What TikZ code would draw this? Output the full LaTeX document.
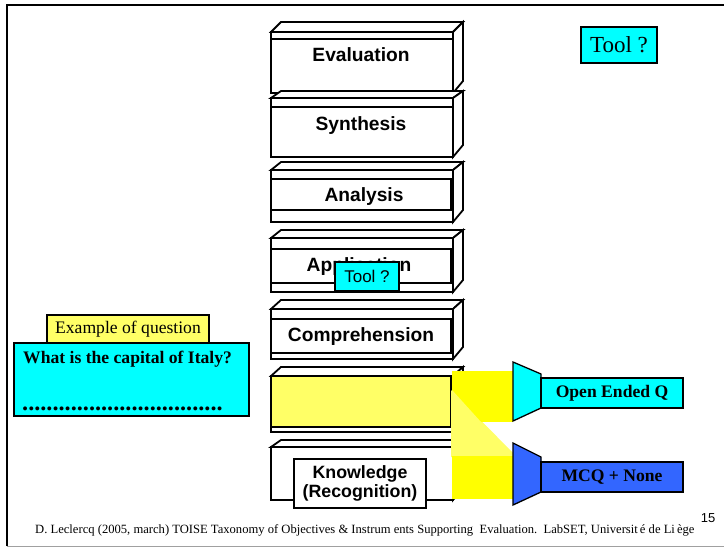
\documentclass[tikz,border=0pt]{standalone}
\usepackage{fontspec}
\setmainfont{Liberation Serif}
\newfontfamily\arialfont{Liberation Sans}
\definecolor{paleyellow}{HTML}{FFFF66}
\definecolor{brightyellow}{HTML}{FFFF00}
\definecolor{toolcyan}{HTML}{00FFFF}
\definecolor{mcqblue}{HTML}{3366FF}
\definecolor{framegray}{HTML}{A0A0A0}
\tikzset{
  edge/.style={draw=black, line width=1.8pt, line join=miter},
  thin edge/.style={draw=black, line width=1.3pt},
  tierlabel/.style={font=\arialfont\bfseries\fontsize{19.2}{21}\selectfont, inner sep=0pt},
  serifbold/.style={font=\bfseries\fontsize{17.6}{20}\selectfont, inner sep=0pt},
}
% One tier of the taxonomy: #1 back edge, #2 front top, #3 front bottom
\newcommand\tierblock[3]{%
  \filldraw[edge, fill=white] (271,#2) rectangle (453,#3);
  \filldraw[edge, fill=white] (271,#2) -- (281,#1) -- (463,#1) -- (453,#2) -- cycle;
  \filldraw[edge, fill=white] (453,#2) -- (463,#1) -- (463,#3-12) -- (453,#3) -- cycle;
}
\begin{document}
\begin{tikzpicture}[x=1pt,y=-1pt]
\useasboundingbox (0,0) rectangle (724,547);
\fill[white] (0,0) rectangle (724,547);

% slide frame
\draw[black, line width=2pt] (7,546) -- (7,5) -- (724,5);
\draw[framegray, line width=1pt] (7,546) -- (724,546);

% the tiers, top to bottom
\tierblock{22}{32}{93}
\draw[edge] (271,39) -- (453,39);
\node[tierlabel] (eval) at (361,55) {Evaluation};

\tierblock{91}{98}{157}
\draw[edge] (271,107) -- (453,107);
\node[tierlabel] (synth) at (361,126) {Synthesis};

\tierblock{162}{170}{222}
\draw[edge] (271,179) rectangle (451,210);
\node[tierlabel] (anal) at (364,197) {Analysis};

\tierblock{230}{238}{292}
\draw[edge] (271,249) rectangle (451,283);
\node[tierlabel] (appl) at (359,267) {Application};

\tierblock{300}{309}{359}
\draw[edge] (271,319) rectangle (451,353);
\node[tierlabel] (compr) at (361,337) {Comprehension};

\tierblock{367}{376}{432}
\filldraw[edge, fill=paleyellow] (271,376) rectangle (451,427);

\tierblock{440}{447}{500}
\node[draw=black, line width=1.8pt, fill=white, minimum width=132pt, minimum height=49pt,
      inner sep=0pt, align=center, font=\arialfont\bfseries\fontsize{17.8}{20}\selectfont]
      (know) at (360,483.5) {Knowledge\\[-1pt](Recognition)};

% small tool tag on Application
\node[draw=black, line width=1.3pt, fill=toolcyan, minimum width=64pt, minimum height=29pt,
      inner sep=0pt, font=\arialfont\fontsize{17}{19}\selectfont] (tooltag) at (367,276.5) {Tool ?};

% yellow links from the tier to the two instruments
\fill[paleyellow] (451,390) -- (513,453) -- (513,457) -- (451,457) -- cycle;
\fill[brightyellow] (452,371) rectangle (513,422);
\fill[brightyellow] (452,456) rectangle (513,499);
\fill[paleyellow] (452,390) -- (481,422) -- (452,422) -- cycle;

% open ended question instrument
\filldraw[thin edge, fill=toolcyan] (513,362) -- (541,374) -- (541,408) -- (513,421) -- cycle;
\node[thin edge, fill=toolcyan, minimum width=142pt, minimum height=30pt, inner sep=0pt,
      serifbold] (oeq) at (612,393) {Open Ended Q};

% multiple choice instrument
\filldraw[thin edge, fill=mcqblue] (513,443) -- (541,457) -- (541,492) -- (513,505) -- cycle;
\node[thin edge, fill=mcqblue, minimum width=142pt, minimum height=30pt, inner sep=0pt,
      serifbold] (mcq) at (612,477) {MCQ + None};

% tool tag, top right
\node[thin edge, fill=toolcyan, minimum width=76pt, minimum height=36pt, inner sep=0pt,
      font=\fontsize{23}{25}\selectfont] (tooltop) at (619,45) {Tool ?};

% example of question
\node[thin edge, fill=paleyellow, minimum width=162pt, minimum height=28pt, inner sep=0pt,
      font=\fontsize{17.6}{20}\selectfont] (exlabel) at (128,329) {Example of question};
\node[thin edge, fill=toolcyan, minimum width=235pt, minimum height=73pt, inner sep=0pt]
      (exbox) at (131.5,379.5) {};
\node[serifbold, anchor=base west] (exq) at (23,363) {What is the capital of Italy?};
\node[font=\bfseries\fontsize{24.3}{26}\selectfont, inner sep=0pt, anchor=base west]
      (exdots) at (22,410) {.................................};

% footer
\node[font=\fontsize{12.6}{14}\selectfont, inner sep=0pt, anchor=base west] (footer) at (35,533)
  {D. Leclercq (2005, march) TOISE Taxonomy of Objectives \& Instrum ents Supporting\ \ Evaluation.\ \ LabSET, Universit\,é de Li\,ège};
\node[font=\arialfont\fontsize{13}{15}\selectfont, inner sep=0pt] (pageno) at (708,518) {15};
\end{tikzpicture}
\end{document}
